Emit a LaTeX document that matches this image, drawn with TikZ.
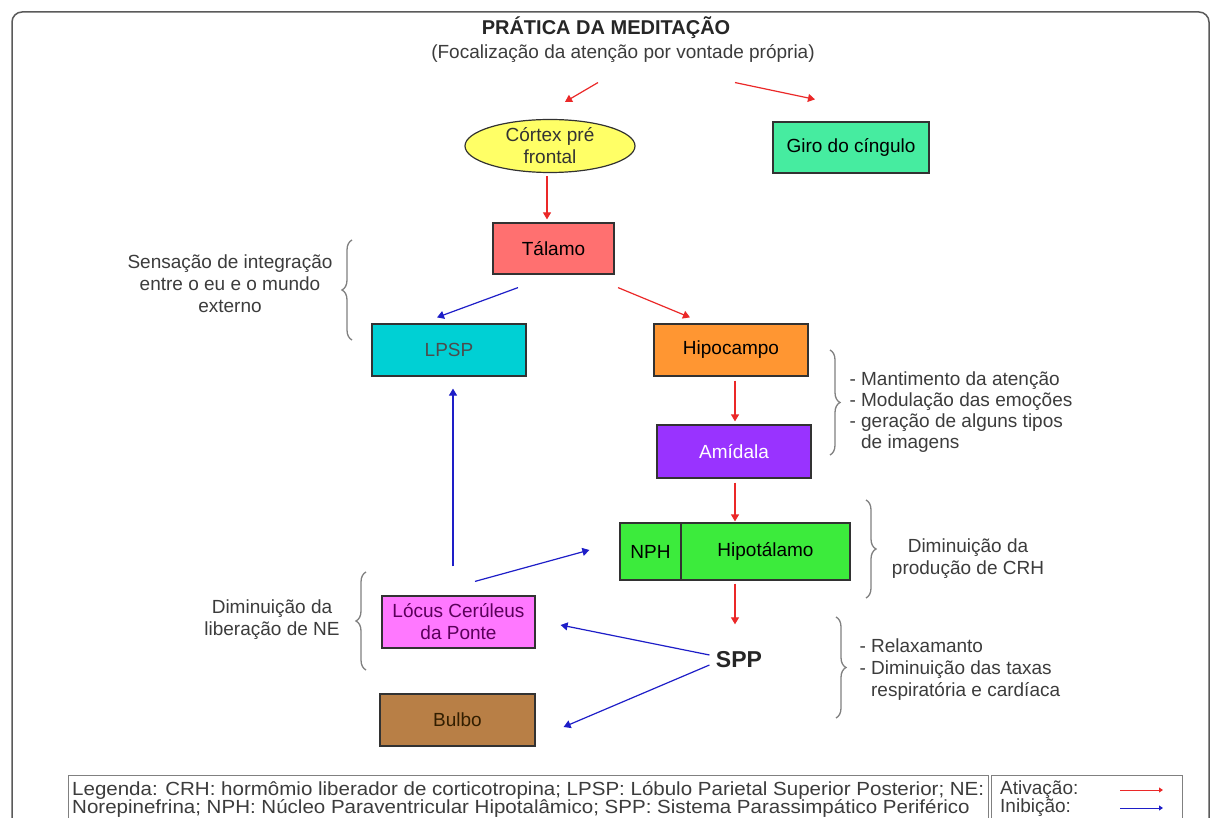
\documentclass[tikz,border=0pt]{standalone}
\usepackage{fontspec}
\setmainfont{Liberation Sans}
\usetikzlibrary{arrows.meta,decorations.pathreplacing,shapes.geometric}
\definecolor{actred}{RGB}{235,40,40}
\definecolor{inhblue}{RGB}{30,30,200}
\definecolor{frame}{RGB}{90,90,90}
\definecolor{txtgray}{RGB}{60,60,60}
\definecolor{bordr}{RGB}{50,50,50}
\definecolor{cyellow}{RGB}{255,255,102}
\definecolor{cgiro}{RGB}{70,236,160}
\definecolor{ctal}{RGB}{255,112,112}
\definecolor{clpsp}{RGB}{0,208,212}
\definecolor{chipo}{RGB}{255,150,50}
\definecolor{camid}{RGB}{153,51,255}
\definecolor{chipot}{RGB}{60,235,60}
\definecolor{clocus}{RGB}{255,120,255}
\definecolor{cbulbo}{RGB}{184,127,70}
\tikzset{
  body/.style={font=\fontsize{19}{22}\selectfont},
  boxnode/.style={body, draw=bordr, line width=1.2pt, rectangle, align=center, inner sep=0pt},
  act/.style={draw=actred, line width=1.2pt, -{Triangle[length=7pt,width=8pt]}},
  inh/.style={draw=inhblue, line width=1.2pt, -{Triangle[length=7pt,width=8pt]}},
  brc/.style={draw=gray, line width=1.3pt, decorate, decoration={brace,amplitude=10pt}},
  note/.style={body, text=txtgray},
  legtxt/.style={font=\fontsize{19}{18.5}\selectfont, text=txtgray, inner sep=0pt}
}
\begin{document}
\begin{tikzpicture}[x=1pt,y=-1pt]
\useasboundingbox (0,0) rectangle (1213,818);
\fill[white] (0,0) rectangle (1213,818);
% outer frame
\draw[frame, line width=1.5pt, rounded corners=10pt] (12,12) rectangle (1209,900);

% title
\node[font=\fontsize{20}{22}\selectfont\bfseries, text=black!85] (title) at (606,28) {PRÁTICA DA MEDITAÇÃO};
\node[body, text=txtgray] (sub) at (623,54) {(Focalização da atenção por vontade própria)};

% nodes
\node[ellipse, draw=bordr, line width=1.2pt, fill=cyellow, minimum width=170pt, minimum height=53pt, inner sep=0pt, align=center, body, text=black!80] (cortex) at (550,146) {Córtex pré\\frontal};
\node[boxnode, fill=cgiro, minimum width=156pt, minimum height=51pt] (giro) at (851,147.5) {Giro do cíngulo};
\node[boxnode, fill=ctal, minimum width=121pt, minimum height=51pt] (talamo) at (553.5,248.5) {Tálamo};
\node[boxnode, fill=clpsp, minimum width=154pt, minimum height=52pt, text=black!70] (lpsp) at (449,350) {LPSP};
\node[boxnode, fill=chipo, minimum width=154pt, minimum height=52pt] (hipo) at (731,350) {Hipocampo};
\node[boxnode, fill=camid, minimum width=154pt, minimum height=53pt, text=white] (amid) at (734,451.5) {Amídala};
\node[boxnode, fill=chipot, minimum width=61pt, minimum height=57pt] (nph) at (650.5,551.5) {NPH};
\node[boxnode, fill=chipot, minimum width=169pt, minimum height=57pt] (hipot) at (765.5,551.5) {Hipotálamo};
\node[font=\fontsize{23}{24}\selectfont\bfseries, text=black!85] (spp) at (739,660) {SPP};
\node[boxnode, fill=clocus, minimum width=153pt, minimum height=52pt, text={rgb,255:red,90;green,0;blue,90}] (locus) at (458.5,622) {Lócus Cerúleus\\da Ponte};
\node[boxnode, fill=cbulbo, minimum width=155pt, minimum height=52pt, text={rgb,255:red,50;green,30;blue,0}] (bulbo) at (457.5,720) {Bulbo};

% activation arrows
\draw[act] ([xshift=-25pt,yshift=-16pt]sub.south) -- ([xshift=15pt,yshift=17pt]cortex.north);
\draw[act] ([xshift=112pt,yshift=-16pt]sub.south) -- ([xshift=-36pt,yshift=22pt]giro.north);
\draw[act] ([xshift=-3pt,yshift=-3pt]cortex.south) -- ([xshift=-6.5pt,yshift=3pt]talamo.north);
\draw[act] ([xshift=64.5pt,yshift=-13pt]talamo.south) -- ([xshift=-41pt,yshift=6pt]hipo.north);
\draw[act] ([xshift=4pt,yshift=-4pt]hipo.south) -- ([xshift=1pt,yshift=3pt]amid.north);
\draw[act] ([xshift=1pt,yshift=-4pt]amid.south) -- ([xshift=-30.5pt,yshift=1pt]hipot.north);
\draw[act] ([xshift=-30.5pt,yshift=-3pt]hipot.south) -- ([xshift=-4pt,yshift=24pt]spp.north);

% inhibition arrows
\draw[inh] ([xshift=-35.5pt,yshift=-13pt]talamo.south) -- ([xshift=-12pt,yshift=6pt]lpsp.north);
\draw[inh] ([xshift=-5.5pt,yshift=29pt]locus.north) -- ([xshift=4pt,yshift=-12pt]lpsp.south);
\draw[inh] ([xshift=16.5pt,yshift=14pt]locus.north) -- ([xshift=-30pt,yshift=1.5pt]nph.west);
\draw[inh] ([xshift=-3pt,yshift=5pt]spp.west) -- ([xshift=25pt,yshift=-3pt]locus.east);
\draw[inh] ([xshift=-3pt,yshift=-5pt]spp.west) -- ([xshift=28pt,yshift=-7pt]bulbo.east);

% braces and notes
\draw[brc] (352,340) -- (352,240);
\node[note, align=center] (n1) at (230,284) {Sensação de integração\\entre o eu e o mundo\\externo};
\draw[brc] (830,350) -- (830,455);
\node[note, align=left, anchor=west, font=\fontsize{19}{21}\selectfont] (n2) at (846,412) {- Mantimento da atenção\\- Modulação das emoções\\- geração de alguns tipos\\\phantom{- }de imagens};
\draw[brc] (866,500) -- (866,598);
\node[note, align=center] (n3) at (968,559) {Diminuição da\\produção de CRH};
\draw[brc] (836,617) -- (836,718);
\node[note, align=left, anchor=west, font=\fontsize{19}{22}\selectfont] (n4) at (856,670) {- Relaxamanto\\- Diminuição das taxas\\\phantom{- }respiratória e cardíaca};
\draw[brc] (366,670) -- (366,572);
\node[note, align=center] (n5) at (272,620) {Diminuição da\\liberação de NE};

% legend
\draw[gray, line width=1pt] (68,775) rectangle (988,840);
\draw[gray, line width=1pt] (991,775) rectangle (1182,840);
\node[legtxt, anchor=west] (leg1) at (72,790) {\scalebox{1.08}[1]{Legenda: CRH: hormômio liberador de corticotropina; LPSP: Lóbulo Parietal Superior Posterior; NE:}};
\node[legtxt, anchor=west] (leg2) at (72,808) {\scalebox{1.08}[1]{Norepinefrina; NPH: Núcleo Paraventricular Hipotalâmico; SPP: Sistema Parassimpático Periférico}};
\node[legtxt, anchor=west] (lat) at (1000,790) {Ativação:};
\node[legtxt, anchor=west] (lin) at (1000,808) {Inibição:};
\coordinate (la1) at (1163,790);
\coordinate (la2) at (1163,808);
\draw[draw=actred, line width=1pt, -{Triangle[length=4pt,width=5pt]}] (la1 -| 1120,0) -- (la1);
\draw[draw=inhblue, line width=1pt, -{Triangle[length=4pt,width=5pt]}] (la2 -| 1120,0) -- (la2);
\end{tikzpicture}
\end{document}
